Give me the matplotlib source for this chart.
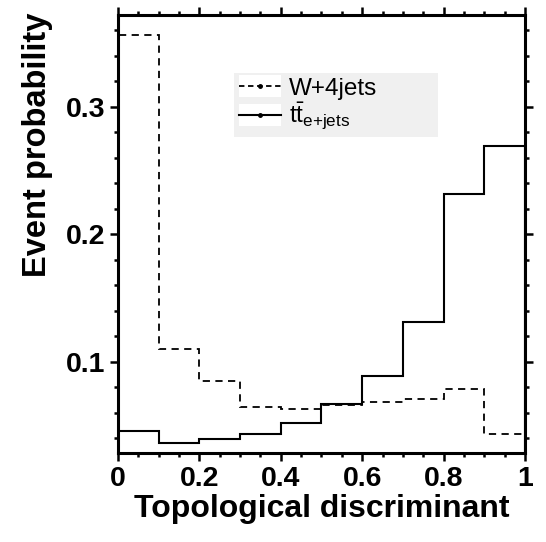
import numpy as np
import matplotlib
matplotlib.use("Agg")
import matplotlib.pyplot as plt
from matplotlib.lines import Line2D
from matplotlib.patches import Rectangle
from matplotlib.legend_handler import HandlerLine2D
from matplotlib.ticker import MultipleLocator

plt.rcParams['font.family'] = ['Liberation Sans', 'DejaVu Sans']
plt.rcParams['mathtext.fontset'] = 'custom'
plt.rcParams['mathtext.rm'] = 'Liberation Sans'

# bin edges of the discriminant histogram
bin_edges = [0.0, 0.1, 0.2, 0.3, 0.4, 0.5, 0.6, 0.7, 0.8, 0.9, 1.0]

# event probability per bin
w4jets = [0.356, 0.110, 0.0846, 0.0645, 0.0629, 0.0663, 0.0684, 0.0710, 0.0786, 0.0433]
ttbar = [0.0459, 0.0362, 0.0396, 0.0435, 0.0519, 0.0668, 0.0885, 0.1316, 0.2318, 0.2689]


class WhiteBoxHandler(HandlerLine2D):
    # legend sample drawn on a white patch, as in the original
    def create_artists(self, legend, orig_handle, xdescent, ydescent,
                       width, height, fontsize, trans):
        box = Rectangle((-xdescent, -ydescent - 0.15 * height), width, height * 1.3,
                        facecolor='white', edgecolor='none', transform=trans)
        arts = super().create_artists(legend, orig_handle, xdescent, ydescent,
                                      width, height, fontsize, trans)
        return [box] + arts


fig = plt.figure(figsize=(5.46, 5.42), dpi=100)
ax = fig.add_axes([0.2161, 0.1642, 0.7454, 0.8081])

ax.stairs(w4jets, bin_edges, color='black', lw=1.3, ls=(0, (4, 3)))
ax.stairs(ttbar, bin_edges, color='black', lw=1.5)

ax.set_xlim(0, 1)
ax.set_ylim(0.0285, 0.372)

ax.xaxis.set_minor_locator(MultipleLocator(0.05))
ax.yaxis.set_minor_locator(MultipleLocator(0.02))
ax.set_xticks([0, 0.2, 0.4, 0.6, 0.8, 1.0])
ax.set_xticklabels(['0', '0.2', '0.4', '0.6', '0.8', '1'])
ax.set_yticks([0.1, 0.2, 0.3])
ax.set_yticklabels(['0.1', '0.2', '0.3'])

ax.tick_params(which='both', direction='out', top=True, right=True,
               width=1.8, labelsize=20.5)
ax.tick_params(which='major', length=6, pad=3)
ax.tick_params(which='minor', length=3)
for lab in ax.get_xticklabels() + ax.get_yticklabels():
    lab.set_fontweight('bold')
for sp in ax.spines.values():
    sp.set_linewidth(2.2)

ax.set_xlabel('Topological discriminant', fontsize=23, fontweight='bold', labelpad=2)
yl = ax.set_ylabel('Event probability', fontsize=23.5, fontweight='bold')
yl.set_rotation_mode('default')
yl.set_ha('left')
yl.set_va('bottom')
ax.yaxis.set_label_coords(-0.235, 0.402)

handles = [
    Line2D([], [], color='black', lw=1.3, ls=(0, (3, 2)), marker='o', markersize=2.5),
    Line2D([], [], color='black', lw=1.5, marker='o', markersize=2.5),
]
labels = ['W+4jets', r'$\mathrm{t\bar{t}}_{\mathrm{e{+}jets}}$']
leg = ax.legend(handles, labels, loc='upper left',
                bbox_to_anchor=(0.285, 0.5, 0.501, 0.3676), mode='expand',
                fontsize=17.5, frameon=True, fancybox=False, framealpha=1,
                facecolor='#f0f0f0', edgecolor='none', handlelength=1.75,
                handletextpad=0.3, borderpad=0.2, labelspacing=0.05,
                numpoints=1, borderaxespad=0,
                handler_map={Line2D: WhiteBoxHandler()})

fig.savefig('out.png', dpi=100)
